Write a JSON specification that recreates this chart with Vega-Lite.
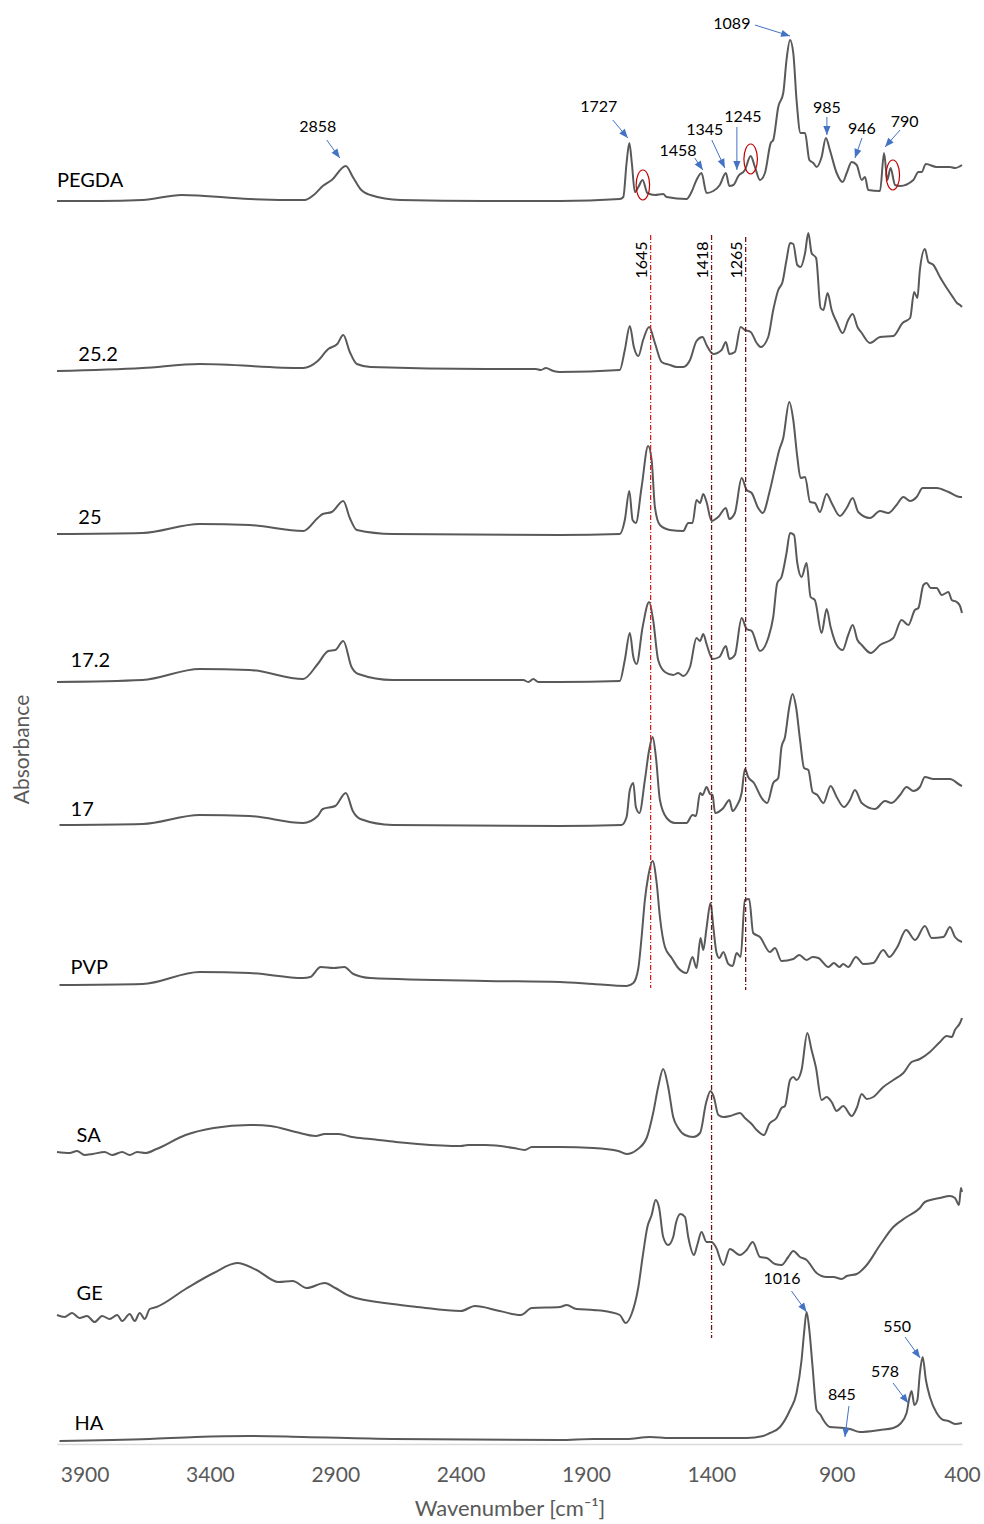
{
"$schema":"https://vega.github.io/schema/vega-lite/v6.json",
"width":905,"height":1434,
"autosize":{"type":"none"},
"padding":{"left":57,"top":10,"right":22,"bottom":80},
"config":{"view":{"stroke":null},"font":"Lato"},
"datasets":{
"spectra":[
{"s":"PEGDA","w":4010,"a":1243},{"s":"PEGDA","w":3840,"a":1243},{"s":"PEGDA","w":3669,"a":1244},{"s":"PEGDA","w":3513,"a":1249},{"s":"PEGDA","w":3242,"a":1245},{"s":"PEGDA","w":3022,"a":1244},{"s":"PEGDA","w":2986,"a":1249},{"s":"PEGDA","w":2950,"a":1258},{"s":"PEGDA","w":2914,"a":1264},{"s":"PEGDA","w":2858,"a":1278},{"s":"PEGDA","w":2830,"a":1267},{"s":"PEGDA","w":2800,"a":1255},{"s":"PEGDA","w":2760,"a":1249},{"s":"PEGDA","w":2640,"a":1244},{"s":"PEGDA","w":2300,"a":1243},{"s":"PEGDA","w":2004,"a":1243},{"s":"PEGDA","w":1765,"a":1245},{"s":"PEGDA","w":1751,"a":1247},{"s":"PEGDA","w":1738,"a":1281},{"s":"PEGDA","w":1727,"a":1301},{"s":"PEGDA","w":1717,"a":1281},{"s":"PEGDA","w":1705,"a":1252},{"s":"PEGDA","w":1691,"a":1257},{"s":"PEGDA","w":1674,"a":1264},{"s":"PEGDA","w":1655,"a":1251},{"s":"PEGDA","w":1625,"a":1249},{"s":"PEGDA","w":1592,"a":1250},{"s":"PEGDA","w":1578,"a":1247},{"s":"PEGDA","w":1499,"a":1245},{"s":"PEGDA","w":1479,"a":1252},{"s":"PEGDA","w":1459,"a":1264},{"s":"PEGDA","w":1439,"a":1271},{"s":"PEGDA","w":1419,"a":1251},{"s":"PEGDA","w":1392,"a":1253},{"s":"PEGDA","w":1366,"a":1259},{"s":"PEGDA","w":1342,"a":1271},{"s":"PEGDA","w":1328,"a":1258},{"s":"PEGDA","w":1312,"a":1259},{"s":"PEGDA","w":1292,"a":1268},{"s":"PEGDA","w":1266,"a":1274},{"s":"PEGDA","w":1243,"a":1288},{"s":"PEGDA","w":1226,"a":1277},{"s":"PEGDA","w":1206,"a":1264},{"s":"PEGDA","w":1186,"a":1271},{"s":"PEGDA","w":1163,"a":1301},{"s":"PEGDA","w":1153,"a":1304},{"s":"PEGDA","w":1133,"a":1337},{"s":"PEGDA","w":1113,"a":1351},{"s":"PEGDA","w":1100,"a":1384},{"s":"PEGDA","w":1086,"a":1404},{"s":"PEGDA","w":1073,"a":1391},{"s":"PEGDA","w":1060,"a":1344},{"s":"PEGDA","w":1044,"a":1311},{"s":"PEGDA","w":1026,"a":1311},{"s":"PEGDA","w":1009,"a":1284},{"s":"PEGDA","w":993,"a":1281},{"s":"PEGDA","w":980,"a":1277},{"s":"PEGDA","w":960,"a":1287},{"s":"PEGDA","w":943,"a":1306},{"s":"PEGDA","w":927,"a":1294},{"s":"PEGDA","w":900,"a":1271},{"s":"PEGDA","w":876,"a":1262},{"s":"PEGDA","w":860,"a":1271},{"s":"PEGDA","w":840,"a":1282},{"s":"PEGDA","w":820,"a":1279},{"s":"PEGDA","w":800,"a":1264},{"s":"PEGDA","w":787,"a":1267},{"s":"PEGDA","w":774,"a":1254},{"s":"PEGDA","w":727,"a":1253},{"s":"PEGDA","w":711,"a":1291},{"s":"PEGDA","w":698,"a":1264},{"s":"PEGDA","w":685,"a":1276},{"s":"PEGDA","w":667,"a":1259},{"s":"PEGDA","w":647,"a":1258},{"s":"PEGDA","w":594,"a":1264},{"s":"PEGDA","w":574,"a":1272},{"s":"PEGDA","w":561,"a":1272},{"s":"PEGDA","w":544,"a":1280},{"s":"PEGDA","w":501,"a":1277},{"s":"PEGDA","w":448,"a":1277},{"s":"PEGDA","w":428,"a":1276},{"s":"PEGDA","w":400,"a":1279},
{"s":"25.2","w":4010,"a":1073},{"s":"25.2","w":3669,"a":1076},{"s":"25.2","w":3441,"a":1080},{"s":"25.2","w":3028,"a":1076},{"s":"25.2","w":2970,"a":1083},{"s":"25.2","w":2928,"a":1095},{"s":"25.2","w":2892,"a":1100},{"s":"25.2","w":2868,"a":1109},{"s":"25.2","w":2842,"a":1092},{"s":"25.2","w":2814,"a":1080},{"s":"25.2","w":2759,"a":1077},{"s":"25.2","w":2300,"a":1075},{"s":"25.2","w":2100,"a":1075},{"s":"25.2","w":2080,"a":1074},{"s":"25.2","w":2060,"a":1076},{"s":"25.2","w":2030,"a":1073},{"s":"25.2","w":2004,"a":1072},{"s":"25.2","w":1765,"a":1074},{"s":"25.2","w":1745,"a":1094},{"s":"25.2","w":1725,"a":1118},{"s":"25.2","w":1709,"a":1097},{"s":"25.2","w":1691,"a":1088},{"s":"25.2","w":1672,"a":1104},{"s":"25.2","w":1648,"a":1117},{"s":"25.2","w":1625,"a":1101},{"s":"25.2","w":1598,"a":1082},{"s":"25.2","w":1565,"a":1079},{"s":"25.2","w":1539,"a":1077},{"s":"25.2","w":1512,"a":1077},{"s":"25.2","w":1485,"a":1084},{"s":"25.2","w":1459,"a":1103},{"s":"25.2","w":1435,"a":1107},{"s":"25.2","w":1419,"a":1099},{"s":"25.2","w":1392,"a":1090},{"s":"25.2","w":1359,"a":1094},{"s":"25.2","w":1342,"a":1102},{"s":"25.2","w":1328,"a":1090},{"s":"25.2","w":1306,"a":1092},{"s":"25.2","w":1283,"a":1117},{"s":"25.2","w":1266,"a":1114},{"s":"25.2","w":1243,"a":1112},{"s":"25.2","w":1219,"a":1101},{"s":"25.2","w":1203,"a":1097},{"s":"25.2","w":1173,"a":1107},{"s":"25.2","w":1153,"a":1134},{"s":"25.2","w":1133,"a":1154},{"s":"25.2","w":1116,"a":1162},{"s":"25.2","w":1100,"a":1184},{"s":"25.2","w":1086,"a":1201},{"s":"25.2","w":1073,"a":1200},{"s":"25.2","w":1057,"a":1179},{"s":"25.2","w":1044,"a":1177},{"s":"25.2","w":1026,"a":1191},{"s":"25.2","w":1013,"a":1211},{"s":"25.2","w":1000,"a":1191},{"s":"25.2","w":982,"a":1186},{"s":"25.2","w":964,"a":1136},{"s":"25.2","w":953,"a":1134},{"s":"25.2","w":936,"a":1151},{"s":"25.2","w":920,"a":1134},{"s":"25.2","w":900,"a":1122},{"s":"25.2","w":876,"a":1111},{"s":"25.2","w":854,"a":1124},{"s":"25.2","w":836,"a":1130},{"s":"25.2","w":817,"a":1117},{"s":"25.2","w":800,"a":1111},{"s":"25.2","w":767,"a":1101},{"s":"25.2","w":727,"a":1107},{"s":"25.2","w":674,"a":1108},{"s":"25.2","w":637,"a":1121},{"s":"25.2","w":607,"a":1126},{"s":"25.2","w":591,"a":1152},{"s":"25.2","w":578,"a":1146},{"s":"25.2","w":568,"a":1174},{"s":"25.2","w":548,"a":1195},{"s":"25.2","w":534,"a":1182},{"s":"25.2","w":514,"a":1179},{"s":"25.2","w":488,"a":1167},{"s":"25.2","w":461,"a":1156},{"s":"25.2","w":434,"a":1146},{"s":"25.2","w":420,"a":1141},{"s":"25.2","w":408,"a":1139},{"s":"25.2","w":400,"a":1137},
{"s":"25","w":4010,"a":910},{"s":"25","w":3669,"a":911},{"s":"25","w":3441,"a":920},{"s":"25","w":3242,"a":919},{"s":"25","w":3028,"a":913},{"s":"25","w":2970,"a":926},{"s":"25","w":2950,"a":930},{"s":"25","w":2914,"a":932},{"s":"25","w":2868,"a":943},{"s":"25","w":2842,"a":926},{"s":"25","w":2814,"a":914},{"s":"25","w":2671,"a":910},{"s":"25","w":2004,"a":909},{"s":"25","w":1765,"a":910},{"s":"25","w":1745,"a":924},{"s":"25","w":1727,"a":953},{"s":"25","w":1714,"a":924},{"s":"25","w":1701,"a":921},{"s":"25","w":1678,"a":957},{"s":"25","w":1652,"a":998},{"s":"25","w":1638,"a":984},{"s":"25","w":1625,"a":937},{"s":"25","w":1605,"a":919},{"s":"25","w":1565,"a":914},{"s":"25","w":1512,"a":913},{"s":"25","w":1492,"a":921},{"s":"25","w":1475,"a":921},{"s":"25","w":1459,"a":944},{"s":"25","w":1445,"a":941},{"s":"25","w":1432,"a":950},{"s":"25","w":1419,"a":942},{"s":"25","w":1399,"a":923},{"s":"25","w":1372,"a":927},{"s":"25","w":1342,"a":936},{"s":"25","w":1328,"a":925},{"s":"25","w":1306,"a":931},{"s":"25","w":1279,"a":966},{"s":"25","w":1259,"a":954},{"s":"25","w":1239,"a":951},{"s":"25","w":1213,"a":936},{"s":"25","w":1195,"a":931},{"s":"25","w":1166,"a":954},{"s":"25","w":1146,"a":976},{"s":"25","w":1129,"a":994},{"s":"25","w":1113,"a":1006},{"s":"25","w":1089,"a":1042},{"s":"25","w":1073,"a":1024},{"s":"25","w":1057,"a":987},{"s":"25","w":1044,"a":966},{"s":"25","w":1026,"a":967},{"s":"25","w":1006,"a":942},{"s":"25","w":987,"a":941},{"s":"25","w":967,"a":932},{"s":"25","w":940,"a":950},{"s":"25","w":920,"a":941},{"s":"25","w":887,"a":928},{"s":"25","w":860,"a":936},{"s":"25","w":836,"a":946},{"s":"25","w":814,"a":932},{"s":"25","w":767,"a":926},{"s":"25","w":727,"a":933},{"s":"25","w":694,"a":931},{"s":"25","w":661,"a":939},{"s":"25","w":634,"a":947},{"s":"25","w":607,"a":943},{"s":"25","w":581,"a":947},{"s":"25","w":557,"a":956},{"s":"25","w":501,"a":956},{"s":"25","w":454,"a":952},{"s":"25","w":408,"a":947},{"s":"25","w":400,"a":947},
{"s":"17.2","w":4010,"a":762},{"s":"17.2","w":3669,"a":764},{"s":"17.2","w":3441,"a":775},{"s":"17.2","w":3242,"a":774},{"s":"17.2","w":3028,"a":765},{"s":"17.2","w":2970,"a":780},{"s":"17.2","w":2928,"a":793},{"s":"17.2","w":2900,"a":794},{"s":"17.2","w":2868,"a":803},{"s":"17.2","w":2835,"a":777},{"s":"17.2","w":2808,"a":770},{"s":"17.2","w":2671,"a":764},{"s":"17.2","w":2150,"a":764},{"s":"17.2","w":2130,"a":762},{"s":"17.2","w":2110,"a":765},{"s":"17.2","w":2090,"a":762},{"s":"17.2","w":2004,"a":762},{"s":"17.2","w":1765,"a":763},{"s":"17.2","w":1745,"a":784},{"s":"17.2","w":1725,"a":811},{"s":"17.2","w":1711,"a":787},{"s":"17.2","w":1698,"a":780},{"s":"17.2","w":1674,"a":817},{"s":"17.2","w":1648,"a":842},{"s":"17.2","w":1632,"a":824},{"s":"17.2","w":1612,"a":784},{"s":"17.2","w":1585,"a":772},{"s":"17.2","w":1552,"a":769},{"s":"17.2","w":1532,"a":771},{"s":"17.2","w":1512,"a":768},{"s":"17.2","w":1485,"a":777},{"s":"17.2","w":1459,"a":806},{"s":"17.2","w":1445,"a":803},{"s":"17.2","w":1432,"a":810},{"s":"17.2","w":1419,"a":800},{"s":"17.2","w":1395,"a":785},{"s":"17.2","w":1368,"a":787},{"s":"17.2","w":1342,"a":798},{"s":"17.2","w":1328,"a":785},{"s":"17.2","w":1306,"a":789},{"s":"17.2","w":1279,"a":826},{"s":"17.2","w":1259,"a":815},{"s":"17.2","w":1239,"a":813},{"s":"17.2","w":1206,"a":793},{"s":"17.2","w":1173,"a":806},{"s":"17.2","w":1153,"a":827},{"s":"17.2","w":1137,"a":861},{"s":"17.2","w":1120,"a":867},{"s":"17.2","w":1100,"a":891},{"s":"17.2","w":1086,"a":911},{"s":"17.2","w":1070,"a":909},{"s":"17.2","w":1057,"a":881},{"s":"17.2","w":1040,"a":867},{"s":"17.2","w":1020,"a":881},{"s":"17.2","w":1004,"a":847},{"s":"17.2","w":987,"a":844},{"s":"17.2","w":960,"a":811},{"s":"17.2","w":940,"a":835},{"s":"17.2","w":924,"a":817},{"s":"17.2","w":900,"a":799},{"s":"17.2","w":876,"a":794},{"s":"17.2","w":854,"a":809},{"s":"17.2","w":836,"a":819},{"s":"17.2","w":817,"a":804},{"s":"17.2","w":800,"a":799},{"s":"17.2","w":764,"a":791},{"s":"17.2","w":727,"a":799},{"s":"17.2","w":674,"a":806},{"s":"17.2","w":641,"a":824},{"s":"17.2","w":614,"a":819},{"s":"17.2","w":588,"a":834},{"s":"17.2","w":574,"a":836},{"s":"17.2","w":554,"a":859},{"s":"17.2","w":541,"a":861},{"s":"17.2","w":525,"a":856},{"s":"17.2","w":501,"a":856},{"s":"17.2","w":481,"a":849},{"s":"17.2","w":454,"a":852},{"s":"17.2","w":441,"a":844},{"s":"17.2","w":421,"a":842},{"s":"17.2","w":408,"a":838},{"s":"17.2","w":400,"a":831},
{"s":"17","w":4000,"a":619},{"s":"17","w":3669,"a":620},{"s":"17","w":3441,"a":629},{"s":"17","w":3242,"a":628},{"s":"17","w":3028,"a":621},{"s":"17","w":2970,"a":628},{"s":"17","w":2950,"a":635},{"s":"17","w":2900,"a":638},{"s":"17","w":2858,"a":651},{"s":"17","w":2830,"a":633},{"s":"17","w":2800,"a":625},{"s":"17","w":2671,"a":619},{"s":"17","w":2004,"a":618},{"s":"17","w":1758,"a":619},{"s":"17","w":1738,"a":627},{"s":"17","w":1725,"a":654},{"s":"17","w":1711,"a":661},{"s":"17","w":1701,"a":637},{"s":"17","w":1687,"a":631},{"s":"17","w":1665,"a":664},{"s":"17","w":1648,"a":694},{"s":"17","w":1634,"a":707},{"s":"17","w":1621,"a":687},{"s":"17","w":1605,"a":644},{"s":"17","w":1578,"a":626},{"s":"17","w":1545,"a":621},{"s":"17","w":1499,"a":621},{"s":"17","w":1475,"a":629},{"s":"17","w":1461,"a":628},{"s":"17","w":1445,"a":651},{"s":"17","w":1435,"a":649},{"s":"17","w":1419,"a":657},{"s":"17","w":1405,"a":650},{"s":"17","w":1395,"a":649},{"s":"17","w":1385,"a":631},{"s":"17","w":1352,"a":636},{"s":"17","w":1328,"a":644},{"s":"17","w":1315,"a":633},{"s":"17","w":1299,"a":638},{"s":"17","w":1279,"a":651},{"s":"17","w":1266,"a":675},{"s":"17","w":1253,"a":667},{"s":"17","w":1230,"a":661},{"s":"17","w":1199,"a":646},{"s":"17","w":1177,"a":641},{"s":"17","w":1153,"a":661},{"s":"17","w":1133,"a":666},{"s":"17","w":1120,"a":697},{"s":"17","w":1106,"a":707},{"s":"17","w":1089,"a":737},{"s":"17","w":1076,"a":750},{"s":"17","w":1062,"a":737},{"s":"17","w":1046,"a":704},{"s":"17","w":1030,"a":676},{"s":"17","w":1013,"a":674},{"s":"17","w":996,"a":652},{"s":"17","w":977,"a":649},{"s":"17","w":953,"a":641},{"s":"17","w":924,"a":658},{"s":"17","w":900,"a":647},{"s":"17","w":871,"a":637},{"s":"17","w":847,"a":644},{"s":"17","w":827,"a":654},{"s":"17","w":800,"a":641},{"s":"17","w":747,"a":635},{"s":"17","w":707,"a":643},{"s":"17","w":681,"a":641},{"s":"17","w":647,"a":649},{"s":"17","w":621,"a":657},{"s":"17","w":594,"a":653},{"s":"17","w":568,"a":657},{"s":"17","w":548,"a":667},{"s":"17","w":514,"a":665},{"s":"17","w":448,"a":665},{"s":"17","w":408,"a":659},{"s":"17","w":400,"a":658},
{"s":"PVP","w":4000,"a":459},{"s":"PVP","w":3669,"a":460},{"s":"PVP","w":3441,"a":472},{"s":"PVP","w":3242,"a":471},{"s":"PVP","w":3028,"a":466},{"s":"PVP","w":3000,"a":467},{"s":"PVP","w":2958,"a":477},{"s":"PVP","w":2906,"a":476},{"s":"PVP","w":2864,"a":477},{"s":"PVP","w":2828,"a":470},{"s":"PVP","w":2759,"a":466},{"s":"PVP","w":2300,"a":463},{"s":"PVP","w":2004,"a":462},{"s":"PVP","w":1871,"a":460},{"s":"PVP","w":1738,"a":458},{"s":"PVP","w":1711,"a":461},{"s":"PVP","w":1691,"a":476},{"s":"PVP","w":1678,"a":507},{"s":"PVP","w":1665,"a":544},{"s":"PVP","w":1652,"a":567},{"s":"PVP","w":1634,"a":583},{"s":"PVP","w":1618,"a":561},{"s":"PVP","w":1605,"a":527},{"s":"PVP","w":1585,"a":497},{"s":"PVP","w":1558,"a":486},{"s":"PVP","w":1532,"a":476},{"s":"PVP","w":1499,"a":471},{"s":"PVP","w":1475,"a":487},{"s":"PVP","w":1459,"a":476},{"s":"PVP","w":1443,"a":506},{"s":"PVP","w":1432,"a":494},{"s":"PVP","w":1419,"a":516},{"s":"PVP","w":1403,"a":541},{"s":"PVP","w":1392,"a":517},{"s":"PVP","w":1379,"a":491},{"s":"PVP","w":1368,"a":486},{"s":"PVP","w":1352,"a":492},{"s":"PVP","w":1332,"a":480},{"s":"PVP","w":1315,"a":478},{"s":"PVP","w":1299,"a":491},{"s":"PVP","w":1283,"a":487},{"s":"PVP","w":1266,"a":544},{"s":"PVP","w":1249,"a":545},{"s":"PVP","w":1233,"a":511},{"s":"PVP","w":1206,"a":507},{"s":"PVP","w":1166,"a":492},{"s":"PVP","w":1146,"a":496},{"s":"PVP","w":1120,"a":483},{"s":"PVP","w":1073,"a":485},{"s":"PVP","w":1049,"a":489},{"s":"PVP","w":1020,"a":484},{"s":"PVP","w":996,"a":487},{"s":"PVP","w":973,"a":486},{"s":"PVP","w":933,"a":477},{"s":"PVP","w":911,"a":481},{"s":"PVP","w":889,"a":477},{"s":"PVP","w":874,"a":480},{"s":"PVP","w":854,"a":477},{"s":"PVP","w":823,"a":487},{"s":"PVP","w":793,"a":480},{"s":"PVP","w":754,"a":481},{"s":"PVP","w":714,"a":494},{"s":"PVP","w":690,"a":487},{"s":"PVP","w":658,"a":497},{"s":"PVP","w":623,"a":514},{"s":"PVP","w":587,"a":504},{"s":"PVP","w":548,"a":518},{"s":"PVP","w":521,"a":506},{"s":"PVP","w":474,"a":507},{"s":"PVP","w":448,"a":517},{"s":"PVP","w":428,"a":507},{"s":"PVP","w":400,"a":502},
{"s":"SA","w":4010,"a":292},{"s":"SA","w":3960,"a":291},{"s":"SA","w":3930,"a":293},{"s":"SA","w":3900,"a":289},{"s":"SA","w":3868,"a":290},{"s":"SA","w":3820,"a":292},{"s":"SA","w":3790,"a":289},{"s":"SA","w":3750,"a":292},{"s":"SA","w":3720,"a":289},{"s":"SA","w":3690,"a":292},{"s":"SA","w":3657,"a":291},{"s":"SA","w":3613,"a":295},{"s":"SA","w":3497,"a":309},{"s":"SA","w":3385,"a":316},{"s":"SA","w":3242,"a":319},{"s":"SA","w":3158,"a":318},{"s":"SA","w":3058,"a":312},{"s":"SA","w":2978,"a":308},{"s":"SA","w":2942,"a":310},{"s":"SA","w":2886,"a":310},{"s":"SA","w":2834,"a":307},{"s":"SA","w":2759,"a":305},{"s":"SA","w":2659,"a":302},{"s":"SA","w":2571,"a":300},{"s":"SA","w":2399,"a":298},{"s":"SA","w":2371,"a":299},{"s":"SA","w":2300,"a":299},{"s":"SA","w":2188,"a":296},{"s":"SA","w":2144,"a":294},{"s":"SA","w":2116,"a":297},{"s":"SA","w":2004,"a":297},{"s":"SA","w":1871,"a":296},{"s":"SA","w":1771,"a":293},{"s":"SA","w":1738,"a":290},{"s":"SA","w":1698,"a":294},{"s":"SA","w":1658,"a":306},{"s":"SA","w":1632,"a":331},{"s":"SA","w":1612,"a":357},{"s":"SA","w":1592,"a":375},{"s":"SA","w":1572,"a":357},{"s":"SA","w":1552,"a":327},{"s":"SA","w":1532,"a":316},{"s":"SA","w":1505,"a":309},{"s":"SA","w":1472,"a":307},{"s":"SA","w":1445,"a":311},{"s":"SA","w":1421,"a":341},{"s":"SA","w":1403,"a":353},{"s":"SA","w":1390,"a":347},{"s":"SA","w":1372,"a":329},{"s":"SA","w":1352,"a":327},{"s":"SA","w":1326,"a":328},{"s":"SA","w":1286,"a":331},{"s":"SA","w":1266,"a":326},{"s":"SA","w":1239,"a":320},{"s":"SA","w":1219,"a":314},{"s":"SA","w":1190,"a":309},{"s":"SA","w":1169,"a":320},{"s":"SA","w":1140,"a":326},{"s":"SA","w":1120,"a":336},{"s":"SA","w":1106,"a":338},{"s":"SA","w":1086,"a":364},{"s":"SA","w":1073,"a":367},{"s":"SA","w":1060,"a":364},{"s":"SA","w":1040,"a":374},{"s":"SA","w":1017,"a":411},{"s":"SA","w":1000,"a":394},{"s":"SA","w":983,"a":377},{"s":"SA","w":960,"a":344},{"s":"SA","w":940,"a":347},{"s":"SA","w":920,"a":342},{"s":"SA","w":900,"a":333},{"s":"SA","w":874,"a":338},{"s":"SA","w":840,"a":328},{"s":"SA","w":820,"a":336},{"s":"SA","w":800,"a":350},{"s":"SA","w":780,"a":345},{"s":"SA","w":754,"a":347},{"s":"SA","w":714,"a":357},{"s":"SA","w":674,"a":364},{"s":"SA","w":634,"a":371},{"s":"SA","w":601,"a":382},{"s":"SA","w":568,"a":385},{"s":"SA","w":528,"a":392},{"s":"SA","w":488,"a":402},{"s":"SA","w":461,"a":408},{"s":"SA","w":441,"a":407},{"s":"SA","w":428,"a":414},{"s":"SA","w":408,"a":421},{"s":"SA","w":400,"a":426},
{"s":"GE","w":4010,"a":129},{"s":"GE","w":3980,"a":127},{"s":"GE","w":3950,"a":131},{"s":"GE","w":3920,"a":126},{"s":"GE","w":3890,"a":128},{"s":"GE","w":3860,"a":122},{"s":"GE","w":3830,"a":128},{"s":"GE","w":3800,"a":125},{"s":"GE","w":3770,"a":129},{"s":"GE","w":3750,"a":123},{"s":"GE","w":3720,"a":130},{"s":"GE","w":3700,"a":123},{"s":"GE","w":3680,"a":131},{"s":"GE","w":3660,"a":125},{"s":"GE","w":3640,"a":135},{"s":"GE","w":3613,"a":137},{"s":"GE","w":3497,"a":155},{"s":"GE","w":3385,"a":171},{"s":"GE","w":3291,"a":181},{"s":"GE","w":3214,"a":174},{"s":"GE","w":3127,"a":162},{"s":"GE","w":3070,"a":163},{"s":"GE","w":3014,"a":156},{"s":"GE","w":2942,"a":161},{"s":"GE","w":2900,"a":156},{"s":"GE","w":2843,"a":148},{"s":"GE","w":2671,"a":140},{"s":"GE","w":2571,"a":137},{"s":"GE","w":2399,"a":133},{"s":"GE","w":2343,"a":138},{"s":"GE","w":2244,"a":133},{"s":"GE","w":2160,"a":129},{"s":"GE","w":2116,"a":136},{"s":"GE","w":2004,"a":137},{"s":"GE","w":1977,"a":139},{"s":"GE","w":1938,"a":135},{"s":"GE","w":1871,"a":134},{"s":"GE","w":1805,"a":132},{"s":"GE","w":1765,"a":129},{"s":"GE","w":1741,"a":121},{"s":"GE","w":1718,"a":130},{"s":"GE","w":1691,"a":157},{"s":"GE","w":1674,"a":187},{"s":"GE","w":1655,"a":217},{"s":"GE","w":1638,"a":229},{"s":"GE","w":1622,"a":244},{"s":"GE","w":1608,"a":236},{"s":"GE","w":1592,"a":207},{"s":"GE","w":1572,"a":199},{"s":"GE","w":1552,"a":207},{"s":"GE","w":1541,"a":221},{"s":"GE","w":1523,"a":230},{"s":"GE","w":1505,"a":227},{"s":"GE","w":1492,"a":207},{"s":"GE","w":1469,"a":189},{"s":"GE","w":1456,"a":199},{"s":"GE","w":1439,"a":212},{"s":"GE","w":1419,"a":202},{"s":"GE","w":1399,"a":202},{"s":"GE","w":1382,"a":197},{"s":"GE","w":1352,"a":179},{"s":"GE","w":1326,"a":195},{"s":"GE","w":1286,"a":189},{"s":"GE","w":1259,"a":194},{"s":"GE","w":1235,"a":202},{"s":"GE","w":1206,"a":187},{"s":"GE","w":1179,"a":186},{"s":"GE","w":1146,"a":180},{"s":"GE","w":1120,"a":179},{"s":"GE","w":1093,"a":187},{"s":"GE","w":1073,"a":193},{"s":"GE","w":1046,"a":187},{"s":"GE","w":1020,"a":184},{"s":"GE","w":980,"a":171},{"s":"GE","w":940,"a":167},{"s":"GE","w":913,"a":167},{"s":"GE","w":880,"a":165},{"s":"GE","w":860,"a":168},{"s":"GE","w":820,"a":170},{"s":"GE","w":780,"a":179},{"s":"GE","w":727,"a":199},{"s":"GE","w":674,"a":217},{"s":"GE","w":621,"a":227},{"s":"GE","w":568,"a":236},{"s":"GE","w":548,"a":242},{"s":"GE","w":488,"a":246},{"s":"GE","w":448,"a":248},{"s":"GE","w":428,"a":246},{"s":"GE","w":412,"a":239},{"s":"GE","w":404,"a":256},{"s":"GE","w":400,"a":252},
{"s":"HA","w":4000,"a":3},{"s":"HA","w":3641,"a":5},{"s":"HA","w":3457,"a":7},{"s":"HA","w":3242,"a":8},{"s":"HA","w":3028,"a":7},{"s":"HA","w":2671,"a":5},{"s":"HA","w":2004,"a":4},{"s":"HA","w":1871,"a":5},{"s":"HA","w":1738,"a":5},{"s":"HA","w":1645,"a":7},{"s":"HA","w":1565,"a":6},{"s":"HA","w":1405,"a":6},{"s":"HA","w":1259,"a":6},{"s":"HA","w":1193,"a":8},{"s":"HA","w":1166,"a":11},{"s":"HA","w":1126,"a":17},{"s":"HA","w":1086,"a":34},{"s":"HA","w":1060,"a":51},{"s":"HA","w":1040,"a":84},{"s":"HA","w":1030,"a":111},{"s":"HA","w":1020,"a":132},{"s":"HA","w":1009,"a":114},{"s":"HA","w":996,"a":77},{"s":"HA","w":980,"a":34},{"s":"HA","w":964,"a":29},{"s":"HA","w":953,"a":24},{"s":"HA","w":927,"a":17},{"s":"HA","w":873,"a":16},{"s":"HA","w":847,"a":15},{"s":"HA","w":807,"a":12},{"s":"HA","w":727,"a":14},{"s":"HA","w":674,"a":16},{"s":"HA","w":647,"a":20},{"s":"HA","w":621,"a":31},{"s":"HA","w":610,"a":46},{"s":"HA","w":601,"a":53},{"s":"HA","w":590,"a":39},{"s":"HA","w":578,"a":44},{"s":"HA","w":568,"a":71},{"s":"HA","w":557,"a":87},{"s":"HA","w":544,"a":64},{"s":"HA","w":528,"a":47},{"s":"HA","w":501,"a":31},{"s":"HA","w":474,"a":24},{"s":"HA","w":454,"a":23},{"s":"HA","w":428,"a":20},{"s":"HA","w":400,"a":21}
],
"names":[
{"s":"PEGDA","w":4010,"a":1263},{"s":"25.2","w":3925,"a":1089},{"s":"25","w":3925,"a":926},{"s":"17.2","w":3956,"a":783},{"s":"17","w":3956,"a":634},{"s":"PVP","w":3956,"a":476},{"s":"SA","w":3932,"a":308},{"s":"GE","w":3932,"a":150},{"s":"HA","w":3940,"a":20}
],
"peaks":[
{"t":"2858","w":2970,"a":1317},{"t":"1727","w":1849,"a":1337},{"t":"1458","w":1533,"a":1293},{"t":"1345","w":1426,"a":1314},{"t":"1245","w":1274,"a":1327},{"t":"1089","w":1318,"a":1420},{"t":"985","w":939,"a":1336},{"t":"946","w":799,"a":1315},{"t":"790","w":629,"a":1322},{"t":"1016","w":1118,"a":165},{"t":"550","w":659,"a":117},{"t":"578","w":707,"a":72},{"t":"845","w":879,"a":49}
],
"arrows":[
{"w1":2934,"a1":1304,"w2":2882,"a2":1286,"ang":144},{"w1":1793,"a1":1324,"w2":1733,"a2":1306,"ang":140},{"w1":1466,"a1":1286,"w2":1434,"a2":1274,"ang":146},{"w1":1398,"a1":1304,"w2":1346,"a2":1276,"ang":155},{"w1":1298,"a1":1317,"w2":1298,"a2":1274,"ang":180},{"w1":1226,"a1":1419,"w2":1086,"a2":1408,"ang":107},{"w1":939,"a1":1327,"w2":939,"a2":1309,"ang":180},{"w1":799,"a1":1306,"w2":827,"a2":1286,"ang":199},{"w1":647,"a1":1314,"w2":707,"a2":1297,"ang":221},{"w1":1080,"a1":153,"w2":1020,"a2":132,"ang":144},{"w1":627,"a1":107,"w2":567,"a2":86,"ang":144},{"w1":675,"a1":61,"w2":615,"a2":41,"ang":143},{"w1":851,"a1":38,"w2":867,"a2":7,"ang":187}
],
"guides":[
{"l":"1645","w":1642,"a1":1209,"a2":456,"la":1184},{"l":"1418","w":1399,"a1":1209,"a2":106,"la":1184},{"l":"1265","w":1263,"a1":1207,"a2":454,"la":1184}
],
"ellipses":[
{"w":1673,"a":1259},{"w":1243,"a":1285},{"w":676,"a":1269}
]
},
"layer":[
{"data":{"name":"spectra"},
 "mark":{"type":"line","color":"#595959","strokeWidth":2,"strokeJoin":"round","interpolate":"monotone"},
 "encoding":{
  "x":{"field":"w","type":"quantitative","scale":{"domain":[400,4010],"reverse":true,"nice":false,"zero":false},
   "axis":{"values":[3900,3400,2900,2400,1900,1400,900,400],"format":"d","title":"Wavenumber [cm⁻¹]","ticks":false,"grid":false,"domainColor":"#D9D9D9","domainWidth":1.5,"labelFontSize":21,"labelColor":"#595959","labelPadding":20,"labelFlush":false,"labelOverlap":false,"titleFontSize":22,"titleFontWeight":"normal","titleColor":"#595959","titleY":64,"titleBaseline":"middle"}},
  "y":{"field":"a","type":"quantitative","scale":{"domain":[0,1434],"nice":false,"zero":false},
   "axis":{"title":"Absorbance","labels":false,"ticks":false,"domain":false,"grid":false,"titleFontSize":21,"titleFontWeight":"normal","titleColor":"#595959","titleX":-35,"titleY":739,"titleAngle":270,"titleBaseline":"middle","titleAlign":"center"}},
  "detail":{"field":"s","type":"nominal"}}},
{"data":{"name":"guides"},
 "mark":{"type":"rule","strokeWidth":1.3,"strokeDash":[5,2,1,2]},
 "encoding":{
  "x":{"field":"w","type":"quantitative","scale":{"domain":[400,4010],"reverse":true,"nice":false,"zero":false}},
  "y":{"field":"a1","type":"quantitative","scale":{"domain":[0,1434],"nice":false,"zero":false}},
  "y2":{"field":"a2"},
  "color":{"field":"l","type":"nominal","scale":{"domain":["1645","1418","1265"],"range":["#D42020","#6E1414","#6E1414"]},"legend":null}}},
{"data":{"name":"guides"},
 "mark":{"type":"text","angle":270,"baseline":"bottom","align":"center","fontSize":16,"color":"#000000","dy":-1},
 "encoding":{
  "x":{"field":"w","type":"quantitative","scale":{"domain":[400,4010],"reverse":true,"nice":false,"zero":false}},
  "y":{"field":"la","type":"quantitative","scale":{"domain":[0,1434],"nice":false,"zero":false}},
  "text":{"field":"l"}}},
{"data":{"name":"names"},
 "mark":{"type":"text","align":"left","baseline":"middle","fontSize":20,"color":"#000000"},
 "encoding":{
  "x":{"field":"w","type":"quantitative","scale":{"domain":[400,4010],"reverse":true,"nice":false,"zero":false}},
  "y":{"field":"a","type":"quantitative","scale":{"domain":[0,1434],"nice":false,"zero":false}},
  "text":{"field":"s"}}},
{"data":{"name":"peaks"},
 "mark":{"type":"text","align":"center","baseline":"middle","fontSize":16,"color":"#000000"},
 "encoding":{
  "x":{"field":"w","type":"quantitative","scale":{"domain":[400,4010],"reverse":true,"nice":false,"zero":false}},
  "y":{"field":"a","type":"quantitative","scale":{"domain":[0,1434],"nice":false,"zero":false}},
  "text":{"field":"t"}}},
{"data":{"name":"arrows"},
 "mark":{"type":"rule","color":"#4472C4","strokeWidth":1},
 "encoding":{
  "x":{"field":"w1","type":"quantitative","scale":{"domain":[400,4010],"reverse":true,"nice":false,"zero":false}},
  "y":{"field":"a1","type":"quantitative","scale":{"domain":[0,1434],"nice":false,"zero":false}},
  "x2":{"field":"w2"},
  "y2":{"field":"a2"}}},
{"data":{"name":"arrows"},
 "mark":{"type":"point","shape":"M0,0L-0.8,2L0.8,2Z","size":81,"filled":true,"color":"#4472C4","opacity":1},
 "encoding":{
  "x":{"field":"w2","type":"quantitative","scale":{"domain":[400,4010],"reverse":true,"nice":false,"zero":false}},
  "y":{"field":"a2","type":"quantitative","scale":{"domain":[0,1434],"nice":false,"zero":false}},
  "angle":{"field":"ang","type":"quantitative","scale":null}}},
{"data":{"name":"ellipses"},
 "mark":{"type":"point","shape":"M-0.45,0A0.45,1,0,1,1,0.45,0A0.45,1,0,1,1,-0.45,0Z","size":900,"filled":false,"color":"#C00000","strokeWidth":1.2,"opacity":1},
 "encoding":{
  "x":{"field":"w","type":"quantitative","scale":{"domain":[400,4010],"reverse":true,"nice":false,"zero":false}},
  "y":{"field":"a","type":"quantitative","scale":{"domain":[0,1434],"nice":false,"zero":false}}}}
]
}
